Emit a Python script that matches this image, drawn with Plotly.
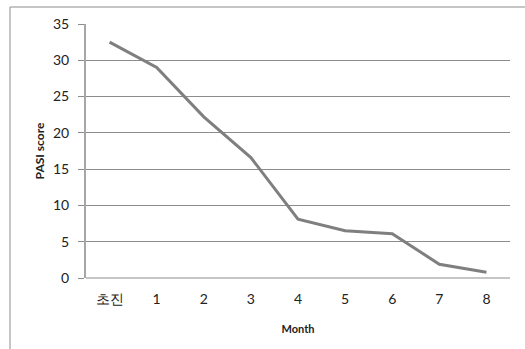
import plotly.graph_objects as go

categories = ["초진", "1", "2", "3", "4", "5", "6", "7", "8"]
pasi_score = [32.5, 29.0, 22.2, 16.6, 8.1, 6.5, 6.1, 1.9, 0.8]
y_ticks = [0, 5, 10, 15, 20, 25, 30, 35]

W, H = 525, 349
L, R, T, B = 86, 15, 24, 71
pw, ph = W - L - R, H - T - B

def px(x):
    return (x - L) / pw

def py(y):
    return (H - B - y) / ph

fig = go.Figure()
fig.add_trace(go.Scatter(
    x=categories, y=pasi_score, mode="lines",
    line=dict(color="#7f7f7f", width=3),
    showlegend=False, hoverinfo="skip",
))

font_family = "Lato, 'Open Sans', sans-serif"
fig.update_layout(
    width=W, height=H,
    margin=dict(l=L, r=R, t=T, b=B),
    paper_bgcolor="white", plot_bgcolor="white",
    font=dict(family=font_family, size=13, color="#222222"),
    xaxis=dict(
        type="category", range=[-0.5, len(categories) - 0.5],
        showgrid=False, zeroline=False, automargin=False,
        showline=False, ticks="", tickfont=dict(size=14, color="#222"),
        ticklabelstandoff=11,
        title=dict(text="<b>Month</b>", font=dict(size=11, color="#222"), standoff=19),
    ),
    yaxis=dict(
        range=[0, 35], tickvals=y_ticks, showgrid=True, gridcolor="#8c8c8c",
        gridwidth=1, zeroline=False, showline=True, linecolor="#a6a6a6",
        linewidth=2, ticks="outside", ticklen=6, tickcolor="#8c8c8c",
        automargin=False,
        tickfont=dict(size=14, color="#222"), ticklabelstandoff=6,
        title=dict(text="<b>PASI score</b>", font=dict(size=12, color="#222"), standoff=6),
    ),
    shapes=[
        dict(type="line", xref="paper", yref="paper",
             x0=px(10), x1=px(525), y0=py(7), y1=py(7),
             line=dict(color="#8c8c8c", width=1)),
        dict(type="line", xref="paper", yref="paper",
             x0=px(10), x1=px(10), y0=py(7), y1=py(349),
             line=dict(color="#8c8c8c", width=1)),
        dict(type="line", xref="paper", yref="paper",
             x0=0, x1=1, y0=0, y1=0, layer="below",
             line=dict(color="#8c8c8c", width=1)),
    ],
)

fig.write_html("out.html", config={"displayModeBar": False},
               post_script="document.body.style.margin='0';")
